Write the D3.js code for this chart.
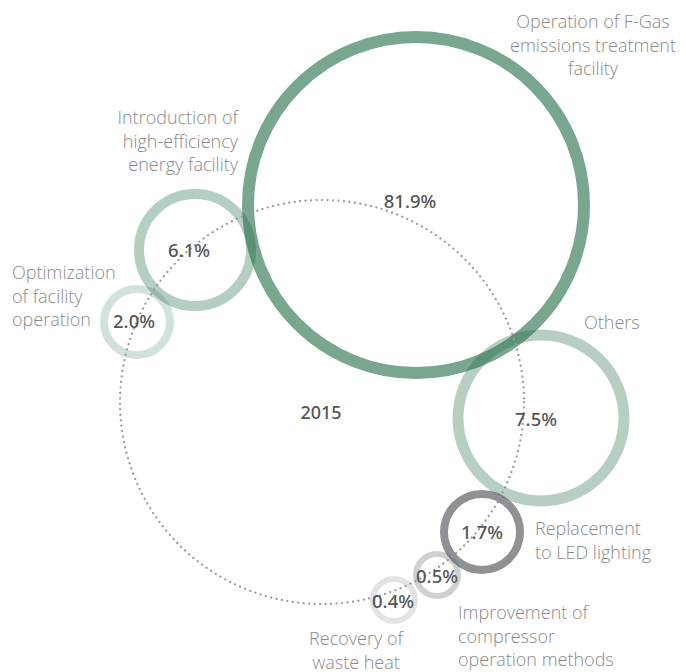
<!DOCTYPE html>
<html><head><meta charset="utf-8">
<script src="https://cdn.jsdelivr.net/npm/d3@7"></script>
<style>body{margin:0;background:#fff}svg{display:block}</style>
</head><body>
<svg id="c" width="686" height="672"></svg>
<script>
// Data
const categories = ["Operation of F-Gas emissions treatment facility","Introduction of high-efficiency energy facility","Optimization of facility operation","Others","Replacement to LED lighting","Improvement of compressor operation methods","Recovery of waste heat"];
const values = [81.9, 6.1, 2.0, 7.5, 1.7, 0.5, 0.4];
const labelLines = [["Operation of F-Gas","emissions treatment","facility"],["Introduction of","high-efficiency","energy facility"],["Optimization","of facility","operation"],["Others"],["Replacement","to LED lighting"],["Improvement of","compressor","operation methods"],["Recovery of","waste heat"]];
const yearLabel = "2015";

// Layout (positions/sizes/styles)
const layout = [
  {cx:416, cy:205, r:168, sw:12, col:"#1f6b45", op:0.6,  tx:410, ty:202, lx:593, ly:28,  anchor:"middle"},
  {cx:195, cy:250, r:56,  sw:10, col:"#1f6b45", op:0.33, tx:189, ty:251, lx:238, ly:124, anchor:"end"},
  {cx:137, cy:322, r:33,  sw:8,  col:"#1f6b45", op:0.2,  tx:134, ty:322, lx:12,  ly:279, anchor:"start"},
  {cx:541, cy:418, r:83,  sw:11, col:"#1f6b45", op:0.32, tx:536, ty:420, lx:584, ly:329, anchor:"start"},
  {cx:482, cy:532, r:38,  sw:8,  col:"#55565c", op:0.65, tx:482, ty:533, lx:535, ly:535, anchor:"start"},
  {cx:437, cy:575, r:21,  sw:6,  col:"#55565c", op:0.28, tx:437, ty:577, lx:458, ly:619, anchor:"start"},
  {cx:394, cy:600, r:21,  sw:6,  col:"#55565c", op:0.17, tx:393, ty:602, lx:356, ly:645, anchor:"middle"}
];
const lineGap = 23.5;

const svg = d3.select("#c");
const labelFont = "'Open Sans', 'Noto Sans', sans-serif";
const numFont = "'Noto Sans', 'Open Sans', sans-serif";

// rings
svg.append("g").selectAll("circle").data(values).join("circle")
  .attr("cx",(d,i)=>layout[i].cx).attr("cy",(d,i)=>layout[i].cy).attr("r",(d,i)=>layout[i].r)
  .attr("fill","none").attr("stroke",(d,i)=>layout[i].col).attr("stroke-opacity",(d,i)=>layout[i].op)
  .attr("stroke-width",(d,i)=>layout[i].sw);

// dotted year circle
svg.append("circle").attr("cx",322).attr("cy",402).attr("r",202)
  .attr("fill","none").attr("stroke","#999").attr("stroke-width",2.2)
  .attr("stroke-dasharray","0.1 5.4").attr("stroke-linecap","round");

// year
svg.append("text").attr("x",321).attr("y",419).attr("text-anchor","middle")
  .attr("font-family",numFont).attr("font-size",18).attr("font-weight",500).attr("fill","#555").text(yearLabel);

// percentages
const fmt = d3.format(".1f");
svg.append("g").selectAll("text").data(values).join("text")
  .attr("x",(d,i)=>layout[i].tx).attr("y",(d,i)=>layout[i].ty).attr("dy","0.35em")
  .attr("text-anchor","middle").attr("font-family",numFont).attr("font-size",18.5).attr("font-weight",500)
  .attr("fill","#555").text(d=>fmt(d)+"%");

// labels
labelLines.forEach((lines,i)=>{
  const L = layout[i];
  const t = svg.append("text").attr("font-family",labelFont).attr("font-size",18).attr("font-weight",300)
    .attr("fill","#8a8a8a").attr("text-anchor",L.anchor);
  lines.forEach((ln,j)=>t.append("tspan").attr("x",L.lx).attr("y",L.ly+j*lineGap).text(ln));
});
</script>
</body></html>
